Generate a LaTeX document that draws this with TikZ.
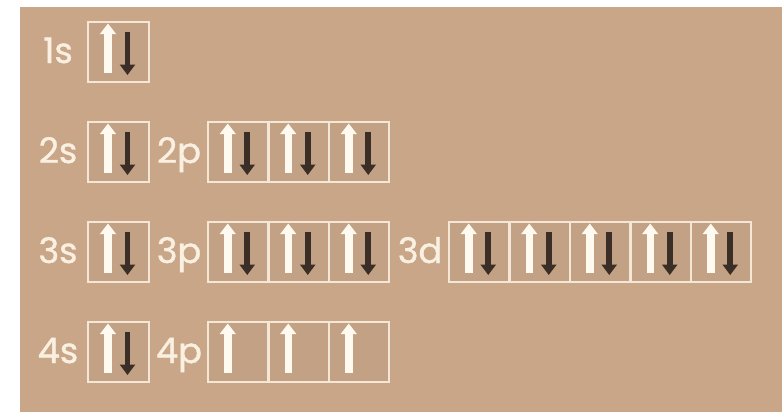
\documentclass[tikz,border=0pt]{standalone}
\usepackage{fontspec}
\newfontfamily\fuenteOrbital{Poppins}[FakeBold=1.1]
\usepackage{xcolor}
\usetikzlibrary{arrows.meta,calc}

\definecolor{fondoTan}{RGB}{201,166,135}
\definecolor{rellenoCaja}{RGB}{195,161,132}
\definecolor{bordeCaja}{RGB}{244,231,214}
\definecolor{espinBlanco}{RGB}{255,250,240}
\definecolor{espinOscuro}{RGB}{58,46,38}
\definecolor{textoCrema}{RGB}{250,240,226}

\begin{document}
\begin{tikzpicture}[x=0.02cm,y=-0.02cm,
    caja/.style={draw=bordeCaja, fill=rellenoCaja, line width=0.04cm,
      minimum width=1.21cm, minimum height=1.2cm, inner sep=0pt},
    etiqueta/.style={text=textoCrema, font=\fuenteOrbital\fontsize{20}{22}\selectfont,
      anchor=base, inner sep=0pt},
    espinArriba/.style={draw=espinBlanco, line width=0.15cm,
      -{Triangle[width=0.31cm,length=0.21cm]}},
    espinAbajo/.style={draw=espinOscuro, line width=0.12cm,
      -{Triangle[width=0.3cm,length=0.21cm]}}]
  \def\ancho{60.5}
  \def\ambos#1{%
    \draw[espinArriba] ($(#1.center)+(-10.5,20.5)$) -- ++(0,-49);
    \draw[espinAbajo] ($(#1.center)+(9,-20)$) -- ++(0,43);}
  \def\solo#1{%
    \draw[espinArriba] ($(#1.center)+(-10.5,20.5)$) -- ++(0,-49);}
  \useasboundingbox (0,0) rectangle (782,414);
  \fill[white] (0,0) rectangle (782,414);
  \fill[fondoTan] (20,7) rectangle (782,412);
  % s
  \foreach \n/\y in {1/52,2/152,3/252,4/352} {
    \node[etiqueta] (s\n) at (58,{\y+11}) {\n s};
    \node[caja] (caja\n s) at (118.5,\y) {};
  }
  % p
  \foreach \n/\y in {2/152,3/252,4/352} {
    \node[etiqueta] (p\n) at (179,{\y+11}) {\n p};
    \foreach \i in {1,2,3}
      \node[caja] (caja\n p\i) at ({208+\ancho*(\i-0.5)},\y) {};
  }
  % d
  \node[etiqueta] (d3) at (420,263) {3d};
  \foreach \i in {1,...,5}
    \node[caja] (caja3d\i) at ({449+\ancho*(\i-0.5)},252) {};
  % electrones
  \foreach \c in {caja1s,caja2s,caja3s,caja4s,caja2p1,caja2p2,caja2p3,
                  caja3p1,caja3p2,caja3p3,caja3d1,caja3d2,caja3d3,caja3d4,caja3d5}
    \ambos{\c};
  \foreach \c in {caja4p1,caja4p2,caja4p3}
    \solo{\c};
\end{tikzpicture}
\end{document}
